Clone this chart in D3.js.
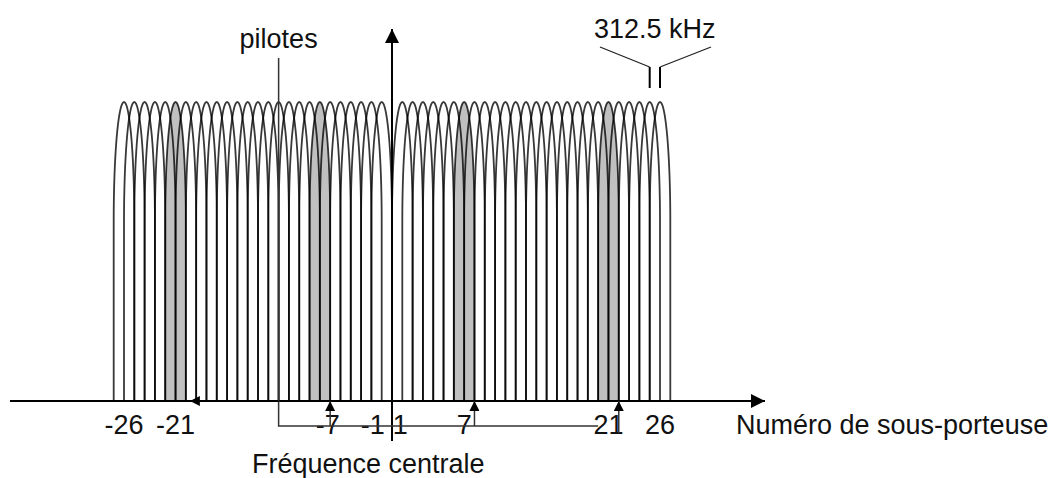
<!DOCTYPE html>
<html>
<head>
<meta charset="utf-8">
<script src="https://cdn.jsdelivr.net/npm/d3@7"></script>
<style>
  html, body { margin: 0; padding: 0; background: #fff; }
  svg { display: block; font-family: "Liberation Sans", Arial, sans-serif; }
</style>
</head>
<body>
<svg id="chart" width="1054" height="478"></svg>
<script>
// sous-porteuses (pas de porteuse 0)
const subcarriers = [-26, -25, -24, -23, -22, -21, -20, -19, -18, -17, -16, -15, -14,
  -13, -12, -11, -10, -9, -8, -7, -6, -5, -4, -3, -2, -1,
  1, 2, 3, 4, 5, 6, 7, 8, 9, 10, 11, 12, 13,
  14, 15, 16, 17, 18, 19, 20, 21, 22, 23, 24, 25, 26]
const amplitude = 1
const pilots = [-21, -7, 7, 21]
const tickLabels = [-26, -21, -7, -1, 1, 7, 21, 26]
const spacingMarks = [25, 26]

const svg = d3.select('#chart')
const x = d3.scaleLinear().domain([-26, 26]).range([124, 660])
const y = d3.scaleLinear().domain([0, 1]).range([400, 102])
const axisY = 401
const fontSize = '27px'

const defs = svg.append('defs')
function marker(id, size) {
  defs.append('marker')
    .attr('id', id)
    .attr('markerUnits', 'userSpaceOnUse')
    .attr('markerWidth', size)
    .attr('markerHeight', size)
    .attr('viewBox', '0 0 10 10')
    .attr('refX', 10)
    .attr('refY', 5)
    .attr('orient', 'auto')
    .append('path')
    .attr('d', 'M0,0 L10,5 L0,10 Z')
    .attr('fill', '#000')
}
marker('arrowBig', 14)
marker('arrowSmall', 10)

// forme d'une sous-porteuse : flancs verticaux + sommet arrondi
function archPath(k) {
  const cx = x(k)
  const w = x(k + 1) - x(k)
  const yb = y(0)
  const yp = y(amplitude)
  const a = (yb - yp) * 0.4
  const pts = [[cx - w, yb], [cx - w, yp + a]]
  for (let i = 0; i <= 40; i++) {
    const t = Math.PI - Math.PI * i / 40
    pts.push([cx + w * Math.cos(t), yp + a - a * Math.sin(t)])
  }
  pts.push([cx + w, yb])
  return d3.line()(pts)
}

// pilotes grisés
svg.append('g').selectAll('path')
  .data(pilots)
  .join('path')
  .attr('d', d => archPath(d))
  .attr('fill', '#c0c0c0')
  .attr('stroke', 'none')

svg.append('g').selectAll('path')
  .data(subcarriers)
  .join('path')
  .attr('d', d => archPath(d))
  .attr('fill', 'none')
  .attr('stroke', '#000')
  .attr('stroke-opacity', 0.78)
  .attr('stroke-width', 1.8)

// axes
svg.append('line')
  .attr('x1', 10).attr('y1', axisY)
  .attr('x2', 765).attr('y2', axisY)
  .attr('stroke', '#000').attr('stroke-width', 2)
  .attr('marker-end', 'url(#arrowBig)')

svg.append('line')
  .attr('x1', x(0)).attr('y1', 441)
  .attr('x2', x(0)).attr('y2', 29)
  .attr('stroke', '#000').attr('stroke-width', 2)
  .attr('marker-end', 'url(#arrowBig)')

// étiquettes
svg.append('g').selectAll('text')
  .data(tickLabels)
  .join('text')
  .attr('x', d => x(d) + (d === -7 ? 8 : d === -1 ? -9 : d === 1 ? -2 : 0))
  .attr('y', 434)
  .attr('text-anchor', 'middle')
  .attr('font-size', fontSize)
  .attr('fill', '#111')
  .text(d => d)

svg.append('text')
  .attr('x', 736).attr('y', 434)
  .attr('font-size', fontSize).attr('fill', '#111')
  .text('Numéro de sous-porteuse')

svg.append('text')
  .attr('x', 252).attr('y', 473)
  .attr('font-size', fontSize).attr('fill', '#111')
  .text('Fréquence centrale')

// repère des pilotes
const pilotX = x(-11)
svg.append('text')
  .attr('x', pilotX).attr('y', 48)
  .attr('text-anchor', 'middle')
  .attr('font-size', fontSize).attr('fill', '#111')
  .text('pilotes')

svg.append('path')
  .attr('d', `M${pilotX},58 L${pilotX},426 L${x(20)},426`)
  .attr('fill', 'none')
  .attr('stroke', '#333').attr('stroke-width', 1.5)

svg.append('line')
  .attr('x1', pilotX).attr('y1', axisY)
  .attr('x2', x(-20) + 4).attr('y2', axisY)
  .attr('stroke', '#000').attr('stroke-width', 1.5)
  .attr('marker-end', 'url(#arrowSmall)')

svg.append('g').selectAll('line')
  .data(pilots.filter(d => d > -21))
  .join('line')
  .attr('x1', d => x(d + 1)).attr('y1', d => d === 21 ? 433 : 426)
  .attr('x2', d => x(d + 1)).attr('y2', axisY)
  .attr('stroke', '#333').attr('stroke-width', 1.5)
  .attr('marker-end', 'url(#arrowSmall)')

// espacement 312.5 kHz
svg.append('text')
  .attr('x', (x(25) + x(26)) / 2).attr('y', 38)
  .attr('text-anchor', 'middle')
  .attr('font-size', fontSize).attr('fill', '#111')
  .text('312.5 kHz')

svg.append('g').selectAll('line')
  .data(spacingMarks)
  .join('line')
  .attr('x1', d => x(d)).attr('y1', 67)
  .attr('x2', d => x(d)).attr('y2', 88)
  .attr('stroke', '#000').attr('stroke-width', 2)

svg.append('line')
  .attr('x1', 600).attr('y1', 47)
  .attr('x2', x(spacingMarks[0])).attr('y2', 67)
  .attr('stroke', '#222').attr('stroke-width', 1.3)
svg.append('line')
  .attr('x1', 711).attr('y1', 47)
  .attr('x2', x(spacingMarks[1])).attr('y2', 67)
  .attr('stroke', '#222').attr('stroke-width', 1.3)
</script>
</body>
</html>
